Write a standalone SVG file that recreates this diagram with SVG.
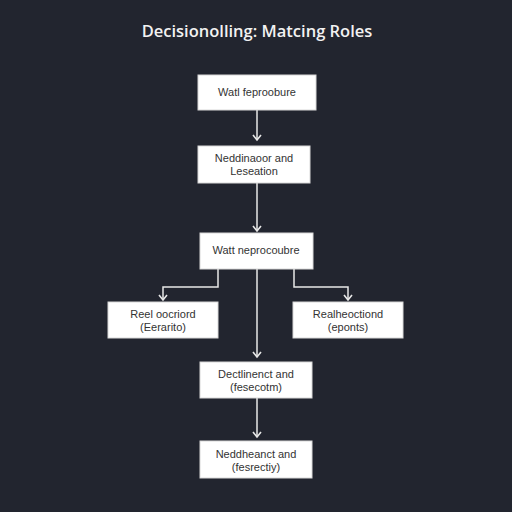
<svg xmlns="http://www.w3.org/2000/svg" width="512" height="512" viewBox="0 0 512 512">
<style>
.bg{fill:#22252f}
.box{fill:#ffffff;stroke:#d8d8d8;stroke-width:1}
.t{font-family:"Liberation Sans",Arial,sans-serif;font-size:11px;fill:#333333;text-anchor:middle}
.title{font-family:"Open Sans","DejaVu Sans",sans-serif;font-size:16.5px;font-weight:600;fill:#f2f2f2;text-anchor:middle}
.c{fill:none;stroke:#e8e8e8;stroke-width:1.5}
</style>
<defs>
<marker id="ah" markerWidth="10" markerHeight="10" refX="7" refY="5" orient="auto" markerUnits="userSpaceOnUse" viewBox="0 0 10 10">
<path d="M2,1 L7,5 L2,9" fill="none" stroke="#e8e8e8" stroke-width="1.6"/>
</marker>
</defs>
<rect class="bg" x="0" y="0" width="512" height="512"/>
<text class="title" x="257" y="37">Decisionolling: Matcing Roles</text>
<g id="connectors">
<path class="c" d="M257,110 V140" marker-end="url(#ah)"/>
<path class="c" d="M257,183 V231" marker-end="url(#ah)"/>
<path class="c" d="M218,269 V287 H163 V300" marker-end="url(#ah)"/>
<path class="c" d="M257,269 V357" marker-end="url(#ah)"/>
<path class="c" d="M294,269 V287 H348 V300" marker-end="url(#ah)"/>
<path class="c" d="M257,398 V437" marker-end="url(#ah)"/>
</g>
<g id="n1"><rect class="box" x="198" y="75" width="118" height="35"/><text class="t" x="257" y="96">Watl feproobure</text></g>
<g id="n2"><rect class="box" x="198" y="146" width="112" height="37"/><text class="t" x="254" y="162">Neddinaoor and</text><text class="t" x="254" y="175">Leseation</text></g>
<g id="n3"><rect class="box" x="200" y="233" width="113" height="36"/><text class="t" x="256" y="254">Watt neprocoubre</text></g>
<g id="n4"><rect class="box" x="108" y="302" width="110" height="36"/><text class="t" x="163" y="318">Reel oocriord</text><text class="t" x="163" y="331">(Eerarito)</text></g>
<g id="n5"><rect class="box" x="293" y="302" width="110" height="36"/><text class="t" x="348" y="318">Realheoctiond</text><text class="t" x="348" y="331">(eponts)</text></g>
<g id="n6"><rect class="box" x="200" y="362" width="112" height="36"/><text class="t" x="256" y="378">Dectlinenct and</text><text class="t" x="256" y="391">(fesecotm)</text></g>
<g id="n7"><rect class="box" x="200" y="441" width="112" height="37"/><text class="t" x="256" y="458">Neddheanct and</text><text class="t" x="256" y="471">(fesrectiy)</text></g>
</svg>
